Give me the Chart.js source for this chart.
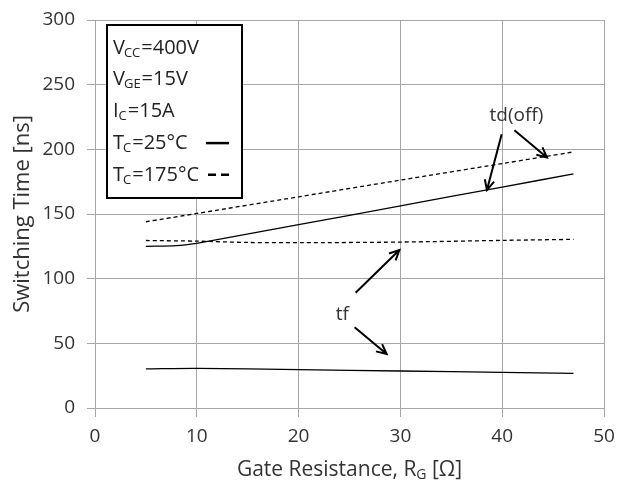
<!DOCTYPE html>
<html>
<head>
<meta charset="utf-8">
<script src="https://cdn.jsdelivr.net/npm/chart.js@4.4.1/dist/chart.umd.min.js"></script>
<style>
  html, body { margin: 0; padding: 0; background: #fff; }
  #wrap { width: 617px; height: 484px; }
</style>
</head>
<body>
<div id="wrap"><canvas id="chart" width="617" height="484"></canvas></div>
<script>
// Gate resistance (ohm) and switching times (ns)
const rgTdOff25 = [5, 8, 10, 12, 20, 30, 40, 47];
const tdOff25 = [125, 125.5, 127.3, 130.2, 141.7, 156.3, 170.8, 181];
const rgTdOff175 = [5, 10, 20, 30, 40, 47];
const tdOff175 = [144, 150.4, 163.3, 176.2, 189, 198];
const rgTf175 = [5, 10, 15, 20, 30, 40, 47];
const tf175 = [129.5, 129, 128, 127.8, 128.3, 129.6, 130.4];
const rgTf25 = [5, 10, 20, 30, 40, 47];
const tf25 = [30.2, 30.7, 29.6, 28.6, 27.6, 26.8];

const xTicks = [0, 10, 20, 30, 40, 50];
const yTicks = [0, 50, 100, 150, 200, 250, 300];

// condition box text: [main, subscript, rest]
const legendRows = [
  ["V", "CC", "=400V"],
  ["V", "GE", "=15V"],
  ["I", "C", "=15A"],
  ["T", "C", "=25\u00B0C"],
  ["T", "C", "=175\u00B0C"]
];

// annotations in data units
const labels = [
  { text: "td(off)", x: 41.4, y: 226 },
  { text: "tf", x: 24.3, y: 72 }
];
const arrows = [
  { x1: 39.95, y1: 211.7, x2: 38.5, y2: 168.5 },
  { x1: 41.2, y1: 214.8, x2: 44.4, y2: 193.7 },
  { x1: 25.6, y1: 89.1, x2: 29.9, y2: 122.1 },
  { x1: 25.5, y1: 62.4, x2: 28.65, y2: 41.7 }
];

const FONT = "'Open Sans', sans-serif";
const TXT = "#333";
const pts = (xs, ys) => xs.map((x, i) => ({ x: x, y: ys[i] }));

function series(xs, ys, dashed) {
  return {
    data: pts(xs, ys),
    borderColor: "#000",
    borderWidth: 1.3,
    borderDash: dashed ? [4, 3] : [],
    pointRadius: 0,
    showLine: true,
    fill: false,
    tension: 0.3
  };
}

const notes = {
  id: "notes",
  afterDraw(chart) {
    const ctx = chart.ctx;
    const xs = chart.scales.x;
    const ys = chart.scales.y;
    const area = chart.chartArea;
    ctx.save();

    // arrows
    ctx.strokeStyle = "#000";
    ctx.lineWidth = 2;
    arrows.forEach((a) => {
      const x1 = xs.getPixelForValue(a.x1), y1 = ys.getPixelForValue(a.y1);
      const x2 = xs.getPixelForValue(a.x2), y2 = ys.getPixelForValue(a.y2);
      const ang = Math.atan2(y2 - y1, x2 - x1);
      ctx.beginPath();
      ctx.moveTo(x1, y1);
      ctx.lineTo(x2, y2);
      ctx.moveTo(x2 - 11 * Math.cos(ang - 0.45), y2 - 11 * Math.sin(ang - 0.45));
      ctx.lineTo(x2, y2);
      ctx.lineTo(x2 - 11 * Math.cos(ang + 0.45), y2 - 11 * Math.sin(ang + 0.45));
      ctx.stroke();
    });

    // labels
    ctx.fillStyle = TXT;
    ctx.font = "19px " + FONT;
    ctx.textAlign = "center";
    ctx.textBaseline = "middle";
    labels.forEach((l) => {
      ctx.fillText(l.text, xs.getPixelForValue(l.x), ys.getPixelForValue(l.y));
    });

    // x axis title with subscript
    ctx.textAlign = "left";
    const parts = [["Gate Resistance, R", 21, 0], ["G", 14, 5], [" [\u03A9]", 21, 0]];
    let w = 0;
    parts.forEach((p) => { ctx.font = p[1] + "px " + FONT; w += ctx.measureText(p[0]).width; });
    let tx = (area.left + area.right) / 2 - w / 2;
    parts.forEach((p) => {
      ctx.font = p[1] + "px " + FONT;
      ctx.fillText(p[0], tx, 470 + p[2]);
      tx += ctx.measureText(p[0]).width;
    });

    // condition box
    const bx = area.left + 12, by = area.top + 5, bw = 135, bh = 173;
    ctx.fillStyle = "#fff";
    ctx.fillRect(bx, by, bw, bh);
    ctx.lineWidth = 2;
    ctx.strokeStyle = "#000";
    ctx.strokeRect(bx, by, bw, bh);

    ctx.fillStyle = "#222";
    legendRows.forEach((r, i) => {
      const cy = by + 23 + i * 31.7;
      let x = bx + 6;
      ctx.font = "20px " + FONT;
      ctx.fillText(r[0], x, cy);
      x += ctx.measureText(r[0]).width - (r[0] === "I" ? 0 : 1);
      ctx.font = "13px " + FONT;
      ctx.fillText(r[1], x, cy + 5);
      x += ctx.measureText(r[1]).width + 1;
      ctx.font = "20px " + FONT;
      ctx.fillText(r[2], x, cy);
    });

    // line samples
    ctx.lineWidth = 2.5;
    ctx.beginPath();
    ctx.moveTo(bx + 99, by + 23 + 3 * 31.7);
    ctx.lineTo(bx + 122, by + 23 + 3 * 31.7);
    ctx.stroke();
    ctx.setLineDash([8, 5]);
    ctx.beginPath();
    ctx.moveTo(bx + 101, by + 23 + 4 * 31.7);
    ctx.lineTo(bx + 127, by + 23 + 4 * 31.7);
    ctx.stroke();
    ctx.restore();
  }
};

new Chart(document.getElementById("chart"), {
  type: "scatter",
  data: {
    datasets: [
      series(rgTdOff25, tdOff25, false),
      series(rgTdOff175, tdOff175, true),
      series(rgTf175, tf175, true),
      series(rgTf25, tf25, false)
    ]
  },
  plugins: [notes],
  options: {
    responsive: false,
    animation: false,
    layout: { padding: { top: 20, right: 13, left: 0, bottom: 0 } },
    plugins: { legend: { display: false }, tooltip: { enabled: false } },
    scales: {
      x: {
        type: "linear",
        min: 0,
        max: 50,
        afterBuildTicks: (s) => { s.ticks = xTicks.map((v) => ({ value: v })); },
        afterFit: (s) => { s.height = 76; s.paddingRight = 0; s.paddingLeft = 0; },
        grid: { color: "#a6a6a6", lineWidth: 1, tickLength: 9 },
        border: { color: "#a6a6a6" },
        ticks: { color: TXT, font: { family: FONT, size: 19 }, padding: 8, maxRotation: 0 }
      },
      y: {
        min: 0,
        max: 300,
        afterBuildTicks: (s) => { s.ticks = yTicks.map((v) => ({ value: v })); },
        afterFit: (s) => { s.width = 95; s.paddingTop = 0; s.paddingBottom = 0; },
        grid: { color: "#a6a6a6", lineWidth: 1, tickLength: 8 },
        border: { color: "#a6a6a6" },
        ticks: { color: TXT, font: { family: FONT, size: 19 }, padding: 12 },
        title: {
          display: true,
          text: "Switching Time [ns]",
          color: TXT,
          font: { family: FONT, size: 22 },
          padding: { top: 10, bottom: 0 }
        }
      }
    }
  }
});
</script>
</body>
</html>
